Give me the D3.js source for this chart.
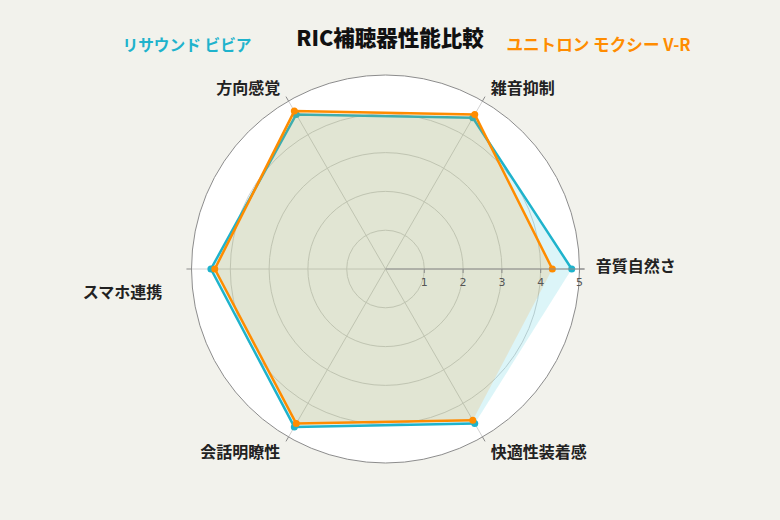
<!DOCTYPE html>
<html lang="ja">

<head>
  <meta charset="UTF-8">
  <title>RIC補聴器性能比較</title>
  <script src="https://cdn.jsdelivr.net/npm/d3@7.6.1/dist/d3.min.js"></script>
  <style>
    body {
      margin: 0;
      background: #f2f2ec;
    }

    svg {
      display: block;
      font-family: "Noto Sans CJK JP", "Noto Sans", sans-serif;
    }
  </style>
</head>

<body>
  <div id="chart"></div>
  <script>
    const width = 780
    const height = 520

    const categories = ['音質自然さ', '雑音抑制', '方向感覚', 'スマホ連携', '会話明瞭性', '快適性装着感']
    const resound = [4.8, 4.5, 4.6, 4.5, 4.7, 4.6]
    const unitron = [4.3, 4.6, 4.7, 4.4, 4.6, 4.5]
    const radialTicks = [1, 2, 3, 4, 5]
    const seriesNames = ['リサウンド ビビア', 'ユニトロン モクシー V-R']

    const cx = 385.5
    const cy = 269
    const radius = 194
    const colors = ['#1fb3cc', '#ff8c00']
    const fills = ['rgba(23,190,207,0.15)', 'rgba(255,140,0,0.15)']

    // 半径と角度の比例尺
    const r = d3.scaleLinear().domain([0, 5]).range([0, radius])
    const angle = d3.scaleLinear().domain([0, categories.length]).range([0, 2 * Math.PI])

    // 反時計回り、0度は右
    const px = (i, v) => cx + r(v) * Math.cos(angle(i))
    const py = (i, v) => cy - r(v) * Math.sin(angle(i))

    const svg = d3.select('#chart').append('svg')
      .attr('width', width)
      .attr('height', height)

    svg.append('rect')
      .attr('width', width)
      .attr('height', height)
      .attr('fill', '#f2f2ec')

    svg.append('circle')
      .attr('cx', cx).attr('cy', cy).attr('r', r(5))
      .attr('fill', '#fff')

    // グリッド円
    svg.selectAll('circle.grid').data(radialTicks.slice(0, -1))
      .enter().append('circle')
      .attr('class', 'grid')
      .attr('cx', cx).attr('cy', cy)
      .attr('r', d => r(d))
      .attr('fill', 'none')
      .attr('stroke', '#d2d2d2')
      .attr('stroke-width', 1)

    // 放射線
    svg.selectAll('line.spoke').data(categories)
      .enter().append('line')
      .attr('class', 'spoke')
      .attr('x1', cx).attr('y1', cy)
      .attr('x2', (d, i) => px(i, 5))
      .attr('y2', (d, i) => py(i, 5))
      .attr('stroke', '#d2d2d2')

    svg.append('circle')
      .attr('cx', cx).attr('cy', cy).attr('r', r(5))
      .attr('fill', 'none')
      .attr('stroke', '#8c8c8c')
      .attr('stroke-width', 1)

    // 外側の目盛り
    svg.selectAll('line.atick').data(categories)
      .enter().append('line')
      .attr('class', 'atick')
      .attr('x1', (d, i) => px(i, 5))
      .attr('y1', (d, i) => py(i, 5))
      .attr('x2', (d, i) => px(i, 5.13))
      .attr('y2', (d, i) => py(i, 5.13))
      .attr('stroke', '#8c8c8c')

    // 系列
    const series = [resound, unitron]
    series.forEach((values, s) => {
      const pts = values.map((v, i) => [px(i, v), py(i, v)])

      svg.append('path')
        .attr('d', d3.line()(pts) + 'Z')
        .attr('fill', fills[s])
        .attr('stroke', 'none')

      svg.append('path')
        .attr('d', d3.line()(pts))
        .attr('fill', 'none')
        .attr('stroke', colors[s])
        .attr('stroke-width', 2.5)
        .attr('stroke-linejoin', 'round')

      svg.selectAll('circle.pt' + s).data(pts)
        .enter().append('circle')
        .attr('class', 'pt' + s)
        .attr('cx', d => d[0])
        .attr('cy', d => d[1])
        .attr('r', 3.5)
        .attr('fill', colors[s])
    })

    // 放射軸 (0度)
    svg.append('line')
      .attr('x1', cx).attr('y1', cy)
      .attr('x2', px(0, 5.13)).attr('y2', cy)
      .attr('stroke', '#8c8c8c')

    svg.selectAll('line.rtick').data(radialTicks)
      .enter().append('line')
      .attr('class', 'rtick')
      .attr('x1', d => cx + r(d)).attr('x2', d => cx + r(d))
      .attr('y1', cy).attr('y2', cy + 4)
      .attr('stroke', '#8c8c8c')

    svg.selectAll('text.rlabel').data(radialTicks)
      .enter().append('text')
      .attr('class', 'rlabel')
      .attr('x', d => cx + r(d))
      .attr('y', cy + 13)
      .attr('text-anchor', 'middle')
      .attr('dominant-baseline', 'central')
      .attr('font-family', 'DejaVu Sans, sans-serif')
      .attr('font-size', 11)
      .attr('fill', '#555')
      .text(d => d)

    // カテゴリラベル
    svg.selectAll('text.alabel').data(categories)
      .enter().append('text')
      .attr('class', 'alabel')
      .attr('x', (d, i) => px(i, 5.42) + (i === 3 ? -13 : 0))
      .attr('y', (d, i) => py(i, 5.42) + (i === 0 ? -4 : i === 3 ? 22 : 0))
      .attr('text-anchor', (d, i) => {
        const c = Math.cos(angle(i))
        return c > 0.01 ? 'start' : c < -0.01 ? 'end' : 'middle'
      })
      .attr('dominant-baseline', 'central')
      .attr('font-size', 16)
      .attr('font-weight', 'bold')
      .attr('fill', '#222')
      .text(d => d)

    // タイトルと凡例
    svg.append('text')
      .attr('x', 390)
      .attr('y', 36)
      .attr('text-anchor', 'middle')
      .attr('dominant-baseline', 'central')
      .attr('font-size', 21.5)
      .attr('font-weight', 900)
      .attr('fill', '#111')
      .text('RIC補聴器性能比較')

    svg.selectAll('text.legend').data(seriesNames)
      .enter().append('text')
      .attr('class', 'legend')
      .attr('x', (d, i) => i === 0 ? 187 : 598.5)
      .attr('y', 44)
      .attr('text-anchor', 'middle')
      .attr('dominant-baseline', 'central')
      .attr('font-size', (d, i) => i === 0 ? 15.7 : 16.6)
      .attr('font-weight', 'bold')
      .attr('fill', (d, i) => colors[i])
      .text(d => d)
  </script>
</body>

</html>
